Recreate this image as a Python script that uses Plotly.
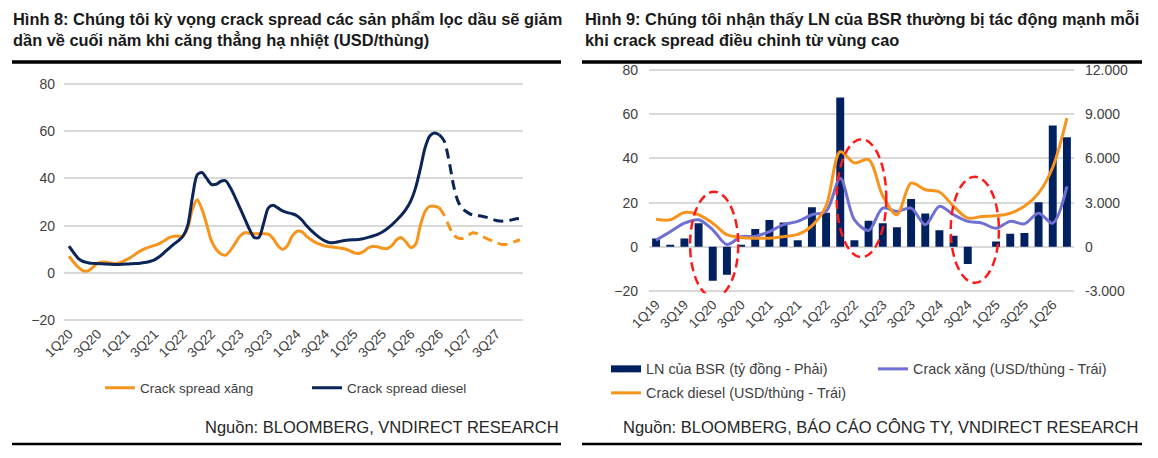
import plotly.graph_objects as go

# Page is offset by the 8px default body margin, so the figure is 8px smaller and
# all reference pixel positions are shifted by -8px.
OFF = 8
W, H = 1158 - OFF, 458 - OFF

# ---------------- Left chart data (monthly, Jan 2020 - Dec 2027) ----------------
left_tick_labels = ["1Q20", "3Q20", "1Q21", "3Q21", "1Q22", "3Q22", "1Q23", "3Q23",
                    "1Q24", "3Q24", "1Q25", "3Q25", "1Q26", "3Q26", "1Q27", "3Q27"]
diesel_monthly = [11.3, 8.5, 6.0, 4.8, 4.3, 4.0, 3.9, 3.8, 3.7, 3.6, 3.5, 3.6,
                  3.7, 3.8, 3.9, 4.1, 4.4, 4.8, 5.5, 6.8, 8.5, 10.3, 12.0, 13.5,
                  15.5, 20.0, 32.0, 41.5, 42.5, 40.0, 37.5, 37.5, 38.8, 39.0, 36.0, 32.0,
                  27.5, 23.0, 18.5, 15.0, 15.0, 21.0, 27.5, 28.6, 27.5, 26.2, 25.5, 25.0,
                  24.2, 22.5, 20.0, 18.0, 16.2, 14.6, 13.4, 12.7, 12.9, 13.3, 13.7, 13.9,
                  14.0, 14.1, 14.5, 15.0, 15.6, 16.3, 17.3, 18.7, 20.3, 22.3, 24.4, 27.0,
                  30.5, 36.0, 44.0, 53.0, 58.0, 59.2, 58.5, 56.0, 48.0, 37.0, 30.0, 27.0,
                  25.5, 24.5, 24.2, 24.0, 23.5, 22.8, 22.2, 21.9, 22.0, 22.3, 22.8, 23.0]
gasoline_monthly = [7.0, 4.5, 2.3, 0.8, 0.8, 2.3, 4.0, 4.6, 4.4, 4.1, 4.0, 4.5,
                    5.5, 6.5, 7.9, 9.2, 10.2, 11.0, 11.6, 12.4, 13.5, 14.8, 15.5, 15.5,
                    15.6, 19.0, 27.0, 31.0, 27.0, 20.5, 13.5, 10.0, 8.0, 7.5, 9.5, 12.5,
                    15.5, 17.0, 16.8, 16.6, 16.5, 16.6, 16.4, 14.5, 11.5, 10.0, 11.5, 15.5,
                    17.6, 17.5, 15.5, 14.0, 12.8, 12.0, 11.3, 11.0, 10.8, 10.5, 10.2, 9.5,
                    8.5, 8.2, 9.0, 10.5, 11.3, 11.0, 10.4, 10.3, 11.5, 14.0, 14.9, 13.0,
                    10.7, 12.0, 20.0, 26.0, 28.2, 28.2, 27.6, 24.5, 20.0, 16.0, 14.7, 14.6,
                    15.8, 17.0, 16.6, 15.5, 14.5, 13.6, 12.8, 12.1, 12.0, 12.5, 13.3, 14.0]
forecast_start = 78  # index where the dashed (forecast) part begins

# ---------------- Right chart data (quarterly, 1Q19 - 2Q26) ----------------
quarters = ["1Q19", "2Q19", "3Q19", "4Q19", "1Q20", "2Q20", "3Q20", "4Q20",
            "1Q21", "2Q21", "3Q21", "4Q21", "1Q22", "2Q22", "3Q22", "4Q22",
            "1Q23", "2Q23", "3Q23", "4Q23", "1Q24", "2Q24", "3Q24", "4Q24",
            "1Q25", "2Q25", "3Q25", "4Q25", "1Q26", "2Q26"]
bsr_profit = [570, 90, 570, 1590, -2310, -1905, 135, 1215,
              1815, 1650, 450, 2685, 2310, 10140, 450, 1770,
              1605, 1335, 3240, 2265, 1125, 750, -1170, 0,
              360, 885, 930, 3030, 8235, 7440]
crack_gasoline_q = [3.0, 6.8, 10.7, 12.2, 7.7, 1.0, 4.6, 4.7,
                    6.9, 10.0, 11.5, 14.5, 16.0, 31.0, 12.2, 7.4,
                    17.5, 16.0, 17.5, 10.0, 18.3, 14.5, 11.5, 10.7,
                    8.4, 11.5, 10.4, 15.2, 10.7, 27.3]
crack_diesel_q = [12.5, 12.2, 15.5, 14.5, 10.7, 5.5, 4.2, 3.9,
                  3.9, 4.6, 5.6, 9.5, 18.5, 43.0, 37.9, 39.5,
                  23.0, 14.5, 28.8, 25.8, 24.8, 18.3, 13.0, 13.7,
                  14.0, 15.2, 18.3, 24.3, 36.0, 58.2]
right_left_ticks = [-20, 0, 20, 40, 60, 80]
right_right_ticks = [-3000, 0, 3000, 6000, 9000, 12000]
right_right_ticktext = ["-3.000", "0", "3.000", "6.000", "9.000", "12.000"]

# ---------------- Styles ----------------
ORANGE = "#F7941D"
NAVY = "#0B2559"
BARNAVY = "#002060"
PURPLE = "#7070D4"
GRID = "#D9D9D9"
TXT = "#404040"
FONT = "Liberation Sans, Arial, sans-serif"


def fx(p):
    return (p - OFF) / W


def fy(p):
    return 1 - (p - OFF) / H


fig = go.Figure()

months = list(range(len(diesel_monthly)))
fs = forecast_start
# Left chart traces
fig.add_trace(go.Scatter(x=months[:fs + 1], y=gasoline_monthly[:fs + 1], mode="lines",
                         name="Crack spread xăng",
                         line=dict(color=ORANGE, width=3, shape="spline", smoothing=0.8),
                         xaxis="x", yaxis="y", legend="legend"))
fig.add_trace(go.Scatter(x=months[:fs + 1], y=diesel_monthly[:fs + 1], mode="lines",
                         name="Crack spread diesel",
                         line=dict(color=NAVY, width=3, shape="spline", smoothing=0.8),
                         xaxis="x", yaxis="y", legend="legend"))
fig.add_trace(go.Scatter(x=months[fs:], y=gasoline_monthly[fs:], mode="lines", showlegend=False,
                         line=dict(color=ORANGE, width=3, dash="10px,6px", shape="spline", smoothing=0.8),
                         xaxis="x", yaxis="y"))
fig.add_trace(go.Scatter(x=months[fs:], y=diesel_monthly[fs:], mode="lines", showlegend=False,
                         line=dict(color=NAVY, width=3, dash="10px,6px", shape="spline", smoothing=0.8),
                         xaxis="x", yaxis="y"))

# Right chart traces
qidx = list(range(len(quarters)))
fig.add_trace(go.Bar(x=qidx, y=bsr_profit, marker=dict(color=BARNAVY, line=dict(width=0)),
                     width=0.56, showlegend=False, name="LN của BSR (tỷ đồng - Phải)",
                     xaxis="x2", yaxis="y2"))
fig.add_trace(go.Scatter(x=[None], y=[None], mode="lines", name="LN của BSR (tỷ đồng - Phải)",
                         line=dict(color=BARNAVY, width=7), xaxis="x2", yaxis="y3", legend="legend2"))
fig.add_trace(go.Scatter(x=qidx, y=crack_gasoline_q, mode="lines", name="Crack xăng (USD/thùng - Trái)",
                         line=dict(color=PURPLE, width=3, shape="spline", smoothing=0.9),
                         xaxis="x2", yaxis="y3", legend="legend2"))
fig.add_trace(go.Scatter(x=qidx, y=crack_diesel_q, mode="lines", name="Crack diesel (USD/thùng - Trái)",
                         line=dict(color=ORANGE, width=3, shape="spline", smoothing=0.9),
                         xaxis="x2", yaxis="y3", legend="legend3"))

tickfont = dict(family=FONT, size=14, color=TXT)
xtickfont = dict(family=FONT, size=13.5, color=TXT)

fig.update_layout(
    xaxis=dict(domain=[fx(64), fx(523)], range=[-1.05, 95.63],
               tickmode="array", tickvals=list(range(0, 96, 6)), ticktext=left_tick_labels,
               tickangle=-45, tickfont=xtickfont, showgrid=False, zeroline=False, showline=False,
               ticks="", anchor="y", automargin=False),
    yaxis=dict(domain=[fy(322.4), fy(81.6)], range=[-21, 81], tickvals=[-20, 0, 20, 40, 60, 80],
               showgrid=True, gridcolor=GRID, gridwidth=2, zeroline=False, tickfont=tickfont,
               ticks="", ticklabelstandoff=8, anchor="x", automargin=False),
    xaxis2=dict(domain=[fx(649), fx(1074)], range=[-0.5, 29.5],
                tickmode="array", tickvals=list(range(0, 30, 2)), ticktext=quarters[::2],
                tickangle=-45, tickfont=xtickfont, showgrid=False, zeroline=False, showline=False,
                ticks="", anchor="y2", automargin=False),
    yaxis2=dict(domain=[fy(293.2), fy(67.8)], range=[-3150, 12150], side="right",
                tickmode="array", tickvals=right_right_ticks, ticktext=right_right_ticktext,
                showgrid=True, gridcolor=GRID, gridwidth=2, zeroline=False, tickfont=tickfont,
                ticks="", ticklabelstandoff=10, anchor="x2", automargin=False),
    yaxis3=dict(range=[-21, 81], tickvals=right_left_ticks, overlaying="y2", side="left",
                showgrid=False, zeroline=False, tickfont=tickfont, ticks="", ticklabelstandoff=10,
                anchor="x2", automargin=False),
)

legend_common = dict(orientation="h", xanchor="left", yanchor="middle", itemwidth=30,
                     bgcolor="rgba(0,0,0,0)", entrywidthmode="pixels")
fig.update_layout(
    width=W, height=H, margin=dict(l=0, r=0, t=0, b=0, autoexpand=False),
    paper_bgcolor="white", plot_bgcolor="white",
    font=dict(family=FONT, color=TXT),
    legend=dict(legend_common, x=fx(100), y=fy(388), entrywidth=162,
                font=dict(family=FONT, size=13.5, color=TXT)),
    legend2=dict(legend_common, x=fx(606), y=fy(369), entrywidth=222,
                 font=dict(family=FONT, size=14.4, color=TXT)),
    legend3=dict(legend_common, x=fx(606), y=fy(393), entrywidth=222,
                 font=dict(family=FONT, size=14.4, color=TXT)),
)

shapes = []
# Title rules and bottom rules
for (a, b) in [(12, 561), (582, 1142)]:
    shapes.append(dict(type="line", xref="paper", yref="paper", x0=fx(a), x1=fx(b),
                       y0=fy(62), y1=fy(62), line=dict(color="black", width=3.5)))
    shapes.append(dict(type="line", xref="paper", yref="paper", x0=fx(a), x1=fx(b),
                       y0=fy(444), y1=fy(444), line=dict(color="black", width=2.5)))
# Red dashed ellipses highlighting drawdowns (x in quarter index, y in left-axis units)
for (ex0, ex1, ey0, ey1) in [(2.4, 5.8, -22.9, 24.9), (12.75, 16.25, -4.7, 48.7), (20.8, 24.2, -16.3, 31.7)]:
    shapes.append(dict(type="circle", xref="x2", yref="y3", x0=ex0, x1=ex1, y0=ey0, y1=ey1,
                       line=dict(color="#FF1A1A", width=2.5, dash="9px,5px"), layer="above"))
fig.update_layout(shapes=shapes)

title_font = dict(family=FONT, size=16.4, color="#1A1A1A")
src_font = dict(family=FONT, size=16.5, color="#262626")
annotations = [
    dict(text="<b>Hình 8: Chúng tôi kỳ vọng crack spread các sản phẩm lọc dầu sẽ giảm<br>"
              "dần về cuối năm khi căng thẳng hạ nhiệt (USD/thùng)</b>",
         xref="paper", yref="paper", x=fx(11), y=fy(8), xanchor="left", yanchor="top",
         align="left", showarrow=False, font=title_font),
    dict(text="<b>Hình 9: Chúng tôi nhận thấy LN của BSR thường bị tác động mạnh mỗi<br>"
              "khi crack spread điều chỉnh từ vùng cao</b>",
         xref="paper", yref="paper", x=fx(583), y=fy(8), xanchor="left", yanchor="top",
         align="left", showarrow=False, font=title_font),
    dict(text="Nguồn: BLOOMBERG, VNDIRECT RESEARCH", xref="paper", yref="paper",
         x=fx(561), y=fy(427), xanchor="right", yanchor="middle", showarrow=False, font=src_font),
    dict(text="Nguồn: BLOOMBERG, BÁO CÁO CÔNG TY, VNDIRECT RESEARCH", xref="paper", yref="paper",
         x=fx(1140), y=fy(427), xanchor="right", yanchor="middle", showarrow=False, font=src_font),
]
fig.update_layout(annotations=annotations)

fig.write_html("out.html")
